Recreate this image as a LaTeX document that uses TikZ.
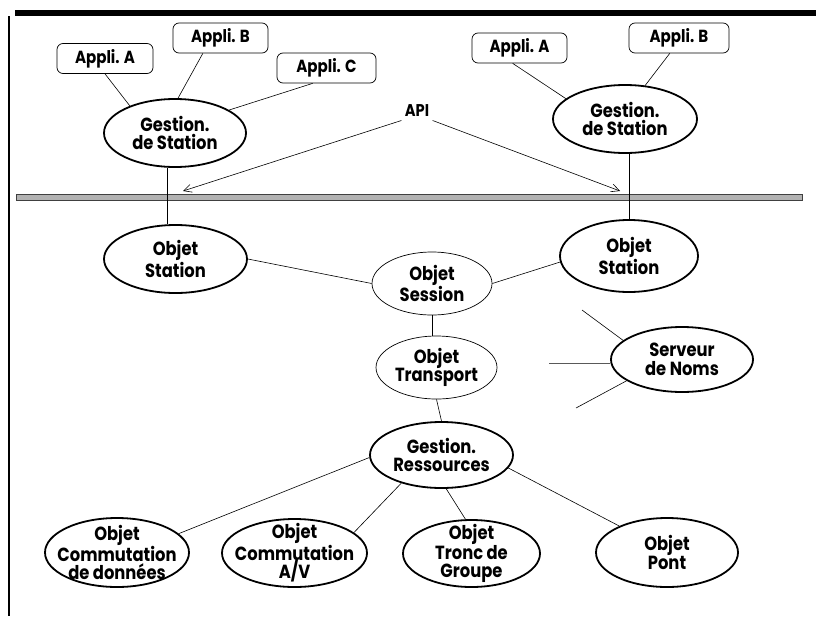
\documentclass[tikz,border=0pt]{standalone}
\usepackage{fontspec}
\setmainfont{Poppins}[FakeStretch=0.86]
\usetikzlibrary{arrows.meta,shapes.geometric}

\tikzset{wh/.style 2 args={minimum width=#1,minimum height=#2}}

\begin{document}
\begin{tikzpicture}[x=1pt,y=-1pt,>={Straight Barb[length=8pt,width=8pt]},
  font=\fontsize{19}{18.5}\selectfont\bfseries,
  main node/.style={ellipse,draw,line width=1.8pt,inner xsep=-25pt,inner ysep=-8pt,align=center},
  thin node/.style={main node,line width=0.7pt},
  appli node/.style={rectangle,rounded corners=6pt,draw,line width=0.7pt,minimum height=30pt,inner sep=0pt,font=\fontsize{17.5}{17}\selectfont\bfseries}]

  \useasboundingbox (0,0) rectangle (816,616);

  % cadre et bus
  \fill (15,10) rectangle (816,16);
  \draw[line width=1.2pt] (9,16) -- (9,616);
  \draw[line width=1pt,draw=gray!50!black,fill=gray!60] (16,194) rectangle (802,200);

  % station de gauche
  \node[appli node,minimum width=96pt] (a1) at (105,58.5) {Appli. A};
  \node[appli node,minimum width=95pt] (b1) at (220.5,38) {Appli. B};
  \node[appli node,minimum width=99pt] (c1) at (326.5,68) {Appli. C};
  \node[main node,wh={142pt}{68pt}] (g1) at (175,133) {Gestion.\\de Station};

  % station de droite
  \node[appli node,minimum width=95pt] (a2) at (519.5,48) {Appli. A};
  \node[appli node,minimum width=100pt] (b2) at (679,38) {Appli. B};
  \node[main node,wh={144pt}{68pt}] (g2) at (625,119) {Gestion.\\de Station};

  \node[font=\fontsize{17}{17}\selectfont\bfseries] (api) at (417,111) {API};
  \coordinate (apil) at (183,191);
  \coordinate (apir) at (620,191);

  \node[main node,wh={143pt}{68pt}] (s1) at (175.5,259) {Objet\\Station};
  \node[main node,wh={138pt}{72pt}] (s2) at (629,256) {Objet\\Station};
  \node[thin node,wh={120pt}{63pt}] (ses) at (432,283.5) {Objet\\Session};
  \node[thin node,wh={121pt}{63pt}] (tr) at (436.5,367.5) {Objet\\Transport};
  \node[main node,wh={142pt}{65pt}] (sn) at (682,359.5) {Serveur\\de Noms};
  \node[main node,wh={143pt}{66pt}] (gr) at (441.5,455) {Gestion.\\Ressources};

  \node[main node,wh={144pt}{69pt}] (cd) at (117,552.5) {Objet\\Commutation\\de données};
  \node[main node,wh={145pt}{68pt}] (av) at (294.5,553) {Objet\\Commutation\\A/V};
  \node[main node,wh={137pt}{67pt}] (tg) at (471.5,553.5) {Objet\\Tronc de\\Groupe};
  \node[main node,wh={142pt}{69pt}] (op) at (667,552.5) {Objet\\Pont};

  \coordinate (sn1) at (582,310);
  \coordinate (sn2) at (549,363);
  \coordinate (sn3) at (576,408);

  \path[draw,line width=0.6pt]
    (a1.south) edge (g1.149)
    (b1.221) edge (g1.85)
    (c1.228) edge (g1.23)
    (g1.258) edge (g1.258 |- s1.north)
    (a2.246) edge (g2.161)
    (b2.239) edge (g2.59)
    (s2.north) edge (s2.north |- g2.south)
    (s1.east) edge (ses.west)
    (ses.east) edge (s2.185)
    (ses.south) edge (ses.south |- tr.north)
    (tr.south) edge (gr.north)
    (sn1) edge (sn.162)
    (sn3) edge (sn.201)
    (gr.182) edge (cd.17)
    (gr.215) edge (av.19)
    (gr.278) edge (tg.100)
    (gr.-11) edge (op.151)
    ;
  \draw[line width=0.8pt,gray!70!black] (sn2) -- (sn2 -| sn.west);

  \path[->,line width=0.6pt]
    (api.south west) edge (apil)
    (api.south east) edge (apir);
\end{tikzpicture}
\end{document}
